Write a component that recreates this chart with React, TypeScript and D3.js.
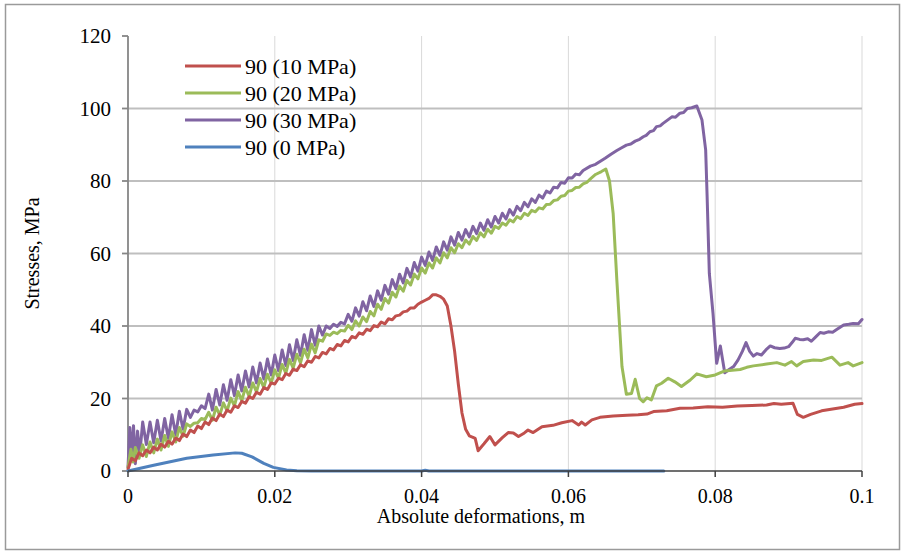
import React from "react";
import * as d3 from "d3";

const xTicks = [0, 0.02, 0.04, 0.06, 0.08, 0.1];
const xTickLabels = ["0", "0.02", "0.04", "0.06", "0.08", "0.1"];
const yTicks = [0, 20, 40, 60, 80, 100, 120];
const yTickLabels = ["0", "20", "40", "60", "80", "100", "120"];
const seriesNames = ["90 (10 MPa)", "90 (20 MPa)", "90 (30 MPa)", "90 (0 MPa)"];
const seriesColors = ["#C0504D", "#9BBB59", "#8064A2", "#4F81BD"];

const red10: [number, number][] = [
  [0,0.5],[0.0005,3.5],[0.001,2.8],[0.0015,5],[0.002,4.2],[0.0025,5.8],[0.003,5],[0.0035,6.6],[0.004,5.8],[0.0045,7.4],[0.005,6.6],[0.0055,8.2],[0.006,7.4],[0.0065,9.1],[0.007,8.4],[0.0075,10.2],[0.008,9.5],[0.0085,11.3],[0.009,10.6],[0.0095,12.4],[0.01,11.7],[0.0105,13.5],[0.011,12.8],[0.0115,14.6],[0.012,13.9],[0.0125,15.7],[0.013,15],[0.0135,16.8],[0.014,16.2],[0.0145,18],[0.015,17.5],[0.0155,19.2],[0.016,18.7],[0.0165,20.5],[0.017,20],[0.0175,21.7],[0.018,21.2],[0.0185,23],[0.019,22.5],[0.0195,24.3],[0.02,24],[0.0205,25.6],[0.021,25.2],[0.0215,26.9],[0.022,26.4],[0.0225,28.1],[0.023,27.7],[0.0235,29.3],[0.024,28.8],[0.0245,30.4],[0.025,30],[0.0255,31.6],[0.026,31.2],[0.0265,32.7],[0.027,32.3],[0.0275,33.8],[0.028,33.4],[0.0285,34.9],[0.029,34.5],[0.0295,36],[0.03,35.6],[0.0305,37.1],[0.031,36.7],[0.0315,38.1],[0.032,37.7],[0.0325,39.1],[0.033,38.7],[0.0335,40.1],[0.034,39.8],[0.0345,41.1],[0.035,40.6],[0.0355,42],[0.036,41.7],[0.0365,42.8],[0.037,43],[0.0375,43.9],[0.038,44.1],[0.0385,45],[0.039,45],[0.0395,46],[0.04,46.6],[0.0405,47.1],[0.041,47.6],[0.0415,48.6],[0.042,48.6],[0.0425,48.2],[0.043,47.4],[0.0435,45.5],[0.044,40],[0.0445,33],[0.045,24],[0.0455,16],[0.046,11.5],[0.0465,9.7],[0.047,9.3],[0.0473,9],[0.0477,5.6],[0.0485,7.5],[0.0493,9.5],[0.05,7.2],[0.051,9.2],[0.0518,10.6],[0.0525,10.5],[0.0532,9.5],[0.054,10.5],[0.0545,11.3],[0.0552,10.6],[0.0564,12.2],[0.0579,12.6],[0.0591,13.3],[0.0605,13.9],[0.0614,12.7],[0.0618,13.5],[0.0623,12.7],[0.0632,14.1],[0.0643,14.8],[0.0661,15.2],[0.068,15.4],[0.0695,15.5],[0.0707,15.7],[0.0716,16.4],[0.0734,16.6],[0.0752,17.3],[0.077,17.4],[0.079,17.7],[0.081,17.6],[0.083,17.9],[0.085,18.1],[0.087,18.2],[0.088,18.6],[0.089,18.4],[0.0906,18.7],[0.0912,15.6],[0.092,14.8],[0.093,15.6],[0.0945,16.6],[0.096,17.1],[0.0975,17.6],[0.099,18.4],[0.1,18.6]
];

const green20: [number, number][] = [
  [0,1],[0.0004,6],[0.0007,2.5],[0.001,6.5],[0.0015,3.5],[0.002,7.2],[0.0025,4],[0.003,8],[0.0035,5],[0.004,8.8],[0.0045,5.8],[0.005,9.8],[0.0055,6.8],[0.006,10.8],[0.0065,8],[0.007,12],[0.0075,9.6],[0.008,13],[0.0085,12.3],[0.009,13.2],[0.0095,13.3],[0.01,14.5],[0.0105,14.2],[0.011,16.2],[0.0115,14],[0.012,17.6],[0.0125,15.4],[0.013,18.8],[0.0135,16.6],[0.014,20.1],[0.0145,18],[0.015,21.9],[0.0155,19.4],[0.016,23.1],[0.0165,20.6],[0.017,24.3],[0.0175,21.8],[0.018,25.5],[0.0185,23],[0.019,26.7],[0.0195,24.2],[0.02,27.9],[0.0205,25.6],[0.021,29.4],[0.0215,27],[0.022,30.8],[0.0225,28.4],[0.023,32.2],[0.0235,29.8],[0.024,33.6],[0.0245,31.2],[0.025,35],[0.0255,32.6],[0.026,36.2],[0.0265,35.8],[0.027,37.8],[0.0275,37.4],[0.028,38.3],[0.0285,37.9],[0.029,38.8],[0.0295,38.6],[0.03,40.2],[0.0305,39],[0.031,41.4],[0.0315,40],[0.032,42.5],[0.0325,41.2],[0.033,44],[0.0335,42.8],[0.034,46],[0.0345,44.6],[0.035,47.6],[0.0355,46.3],[0.036,49.3],[0.0365,48],[0.037,51],[0.0375,49.6],[0.038,52.6],[0.0385,51.3],[0.039,54.3],[0.0395,53],[0.04,56],[0.0405,54.6],[0.041,57.4],[0.0415,56],[0.042,58.8],[0.0425,57.4],[0.043,60.2],[0.0435,58.8],[0.044,61.6],[0.0445,60.2],[0.045,62.7],[0.0455,61.6],[0.046,63.7],[0.0465,62.6],[0.047,64.7],[0.0475,63.6],[0.048,65.7],[0.0485,64.6],[0.049,66.7],[0.0495,65.6],[0.05,67.5],[0.0505,66.9],[0.051,68.4],[0.0515,67.8],[0.052,69.3],[0.0525,68.7],[0.053,70.2],[0.0535,69.6],[0.054,71.1],[0.0545,70.5],[0.055,71.9],[0.0555,71.5],[0.056,72.6],[0.0565,72.3],[0.057,73.5],[0.0575,73.6],[0.058,74.6],[0.0585,74.8],[0.059,75.8],[0.0595,76],[0.06,77.2],[0.0605,77.4],[0.061,78.2],[0.0615,78.3],[0.062,79.2],[0.0625,79.6],[0.063,80.6],[0.0637,81.8],[0.0645,82.6],[0.0651,83.3],[0.0656,80],[0.0661,71],[0.0666,52.7],[0.0673,28.8],[0.0679,21.2],[0.0686,21.4],[0.0691,25.3],[0.0697,20],[0.0702,19.1],[0.0707,20.2],[0.0713,19.6],[0.072,23.5],[0.0727,24.2],[0.0736,25.6],[0.0745,24.6],[0.0754,23.3],[0.076,24.2],[0.0766,25.1],[0.0775,26.8],[0.0788,26],[0.08,26.5],[0.0813,27.6],[0.0823,27.8],[0.0834,28],[0.0843,28.6],[0.0852,29],[0.087,29.5],[0.0884,29.9],[0.0895,29.2],[0.0904,30.2],[0.0911,29],[0.092,30.2],[0.0934,30.6],[0.0945,30.5],[0.0959,31.4],[0.097,29.2],[0.0981,29.9],[0.0988,29],[0.1,29.9]
];

const purple30: [number, number][] = [
  [0,1],[0.00025,12],[0.0005,3],[0.00075,12.5],[0.001,2],[0.0013,11],[0.0016,4.5],[0.002,13.5],[0.0025,7.3],[0.003,13.5],[0.0035,7.8],[0.004,14],[0.0045,8.3],[0.005,14.5],[0.0055,9],[0.006,15.5],[0.0065,10],[0.007,16.5],[0.0075,11.5],[0.008,17],[0.0085,14.8],[0.009,16.8],[0.0095,16.3],[0.01,18],[0.0105,17.2],[0.011,21.2],[0.0115,16.8],[0.012,22.5],[0.0125,18.2],[0.013,23.8],[0.0135,19.5],[0.014,25.2],[0.0145,20.8],[0.015,26.5],[0.0155,22.1],[0.016,27.6],[0.0165,23.2],[0.017,28.7],[0.0175,24.3],[0.018,29.8],[0.0185,25.4],[0.019,30.9],[0.0195,26.5],[0.02,32],[0.0205,27.7],[0.021,33.4],[0.0215,29.1],[0.022,34.8],[0.0225,30.5],[0.023,36.2],[0.0235,31.9],[0.024,37.6],[0.0245,33.3],[0.025,39],[0.0255,34.7],[0.026,40],[0.0265,37.5],[0.027,40],[0.0275,39.3],[0.028,40.5],[0.0285,39.9],[0.029,41],[0.0295,40.6],[0.03,43.2],[0.0305,41.3],[0.031,45],[0.0315,42.7],[0.032,46.7],[0.0325,44.2],[0.033,48.3],[0.0335,45.4],[0.034,49.7],[0.0345,47.1],[0.035,51.2],[0.0355,48.8],[0.036,52.8],[0.0365,50.3],[0.037,54.3],[0.0375,51.9],[0.038,55.9],[0.0385,53.5],[0.039,57.5],[0.0395,55.1],[0.04,59],[0.0405,56.7],[0.041,60.4],[0.0415,58.1],[0.042,61.8],[0.0425,59.5],[0.043,63.2],[0.0435,60.9],[0.044,64.6],[0.0445,62.3],[0.045,65.8],[0.0455,63.7],[0.046,66.6],[0.0465,64.6],[0.047,67.5],[0.0475,65.5],[0.048,68.4],[0.0485,66.4],[0.049,69.3],[0.0495,67.3],[0.05,70.2],[0.0505,68.4],[0.051,71.1],[0.0515,69.5],[0.052,72.1],[0.0525,70.6],[0.053,73],[0.0535,71.8],[0.054,74.1],[0.0545,72.9],[0.055,75.1],[0.0555,74.1],[0.056,76.1],[0.0565,75.3],[0.057,77.2],[0.0575,76.7],[0.058,78.3],[0.0585,78.1],[0.059,79.6],[0.0595,79.4],[0.06,80.9],[0.0605,80.8],[0.061,81.9],[0.0615,81.7],[0.062,82.9],[0.063,84.1],[0.0637,84.6],[0.0643,85.4],[0.065,86.3],[0.0658,87.4],[0.0666,88.4],[0.0672,89.1],[0.0679,89.9],[0.0685,90.2],[0.0691,91],[0.0697,91.5],[0.0702,92.2],[0.0706,92.6],[0.0711,93.6],[0.0716,93.9],[0.072,95],[0.0725,95.2],[0.0729,95.9],[0.0735,96.8],[0.0741,97.7],[0.0746,97.6],[0.0752,98.7],[0.0757,98.9],[0.0762,100],[0.0768,100.2],[0.0775,100.7],[0.0782,96.8],[0.0787,88.6],[0.0789,75.7],[0.0792,54.5],[0.0797,43.5],[0.0802,29.7],[0.0807,34.5],[0.0813,27.1],[0.0819,28],[0.0825,28.8],[0.0831,30.6],[0.0837,33],[0.0842,35.4],[0.0847,33],[0.0852,31.7],[0.0857,32.4],[0.0863,32],[0.0869,33.4],[0.0875,34.5],[0.0881,34],[0.0888,33.8],[0.0894,33.9],[0.09,34.3],[0.0905,35.5],[0.0909,36.6],[0.0915,36.3],[0.092,36.2],[0.0926,36.5],[0.0931,35.8],[0.0937,37],[0.0943,38.2],[0.0948,38],[0.0954,38.4],[0.096,38.3],[0.0966,39.1],[0.0975,40.3],[0.0982,40.5],[0.0988,40.7],[0.0995,40.6],[0.1,41.8]
];

const blue0: [number, number][] = [
  [0,0],[0.0035,1.6],[0.008,3.5],[0.0116,4.4],[0.0146,5],[0.0155,4.9],[0.0169,3.9],[0.0185,2.1],[0.0198,1],[0.0216,0.3],[0.023,0.05],[0.025,0],[0.04,0],[0.0405,0.2],[0.041,0],[0.073,0]
];

const W = 903;
const H = 552;
const left = 128;
const right = 862;
const top = 36;
const bottom = 471;
const FONT = "'Liberation Serif', 'Times New Roman', serif";

export default function App() {
  const x = d3.scaleLinear().domain([0, 0.1]).range([left, right]);
  const y = d3.scaleLinear().domain([0, 120]).range([bottom, top]);
  const line = d3
    .line<[number, number]>()
    .x((d) => x(d[0]))
    .y((d) => y(d[1]));

  const drawOrder = [
    { data: purple30, color: seriesColors[2] },
    { data: green20, color: seriesColors[1] },
    { data: red10, color: seriesColors[0] },
    { data: blue0, color: seriesColors[3] },
  ];

  const legendY = [66, 93, 120, 147];

  return (
    <svg
      width={W}
      height={H}
      style={{ position: "absolute", left: 0, top: 0, background: "#fff" }}
      fontFamily={FONT}
    >
      <rect x={0} y={0} width={W} height={H} fill="#fff" />
      <rect x={5.5} y={4.5} width={894} height={545} fill="none" stroke="#9a9a9a" strokeWidth={1.5} />
      {xTicks.slice(1).map((t) => (
        <line key={"vg" + t} x1={x(t)} x2={x(t)} y1={top} y2={bottom} stroke="#d9d9d9" strokeWidth={1} />
      ))}
      {yTicks.slice(1, -1).map((t) => (
        <line key={"hg" + t} x1={left} x2={right} y1={y(t)} y2={y(t)} stroke="#bfbfbf" strokeWidth={1.8} />
      ))}
      <line x1={left} x2={left} y1={top} y2={bottom} stroke="#868686" strokeWidth={1.8} />
      {yTicks.map((t) => (
        <line key={"yt" + t} x1={left - 6} x2={left} y1={y(t)} y2={y(t)} stroke="#868686" strokeWidth={1.8} />
      ))}
      {yTicks.map((t, i) => (
        <text key={"yl" + t} x={111} y={y(t)} dy="0.35em" textAnchor="end" fontSize={21} fill="#000">
          {yTickLabels[i]}
        </text>
      ))}
      {drawOrder.map((s, i) => (
        <path key={"s" + i} d={line(s.data) || ""} fill="none" stroke={s.color} strokeWidth={3} strokeLinejoin="round" strokeLinecap="round" />
      ))}
      <line x1={left} x2={right} y1={bottom} y2={bottom} stroke="#404040" strokeWidth={1.5} />
      {xTicks.map((t) => (
        <line key={"xt" + t} x1={x(t)} x2={x(t)} y1={bottom} y2={bottom + 6} stroke="#404040" strokeWidth={1.5} />
      ))}
      {xTicks.map((t, i) => (
        <text key={"xl" + t} x={x(t)} y={503} textAnchor="middle" fontSize={20} fill="#000">
          {xTickLabels[i]}
        </text>
      ))}
      <text x={481} y={523} textAnchor="middle" fontSize={20} fill="#000">
        Absolute deformations, m
      </text>
      <text transform={`translate(39,${(top + bottom) / 2}) rotate(-90)`} textAnchor="middle" fontSize={20} fill="#000">
        Stresses, MPa
      </text>
      {seriesNames.map((n, i) => (
        <g key={"lg" + i}>
          <line x1={185} x2={241} y1={legendY[i]} y2={legendY[i]} stroke={seriesColors[i]} strokeWidth={3} />
          <text x={245} y={legendY[i]} dy="0.35em" fontSize={22} fill="#000">
            {n}
          </text>
        </g>
      ))}
    </svg>
  );
}
